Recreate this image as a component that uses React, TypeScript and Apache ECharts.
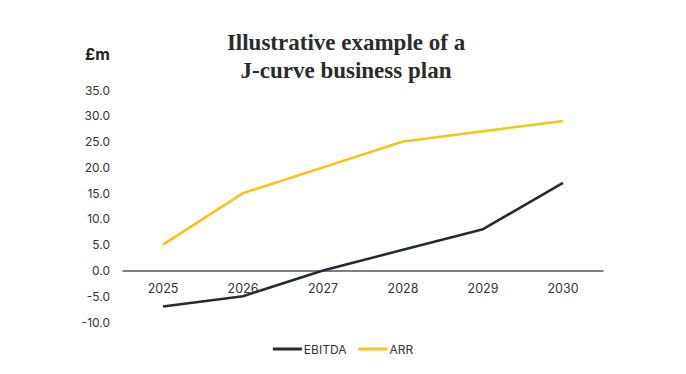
import React, { useEffect, useRef } from "react";
import * as echarts from "echarts";

const years = ["2025", "2026", "2027", "2028", "2029", "2030"];
const ebitda = [-7, -5, 0, 4, 8, 17];
const arr = [5, 15, 20, 25, 27, 29];
const yMin = -10;
const yMax = 35;

export default function App() {
  const ref = useRef<HTMLDivElement>(null);
  useEffect(() => {
    if (!ref.current) return;
    const chart = echarts.init(ref.current, undefined, { renderer: "svg" });
    const gridTop = 82;
    const gridBottom = 44;
    const gridH = 358 - gridTop - gridBottom;
    const zeroOffset = (-yMin / (yMax - yMin)) * gridH;
    chart.setOption({
      animation: false,
      backgroundColor: "#ffffff",
      title: {
        text: "Illustrative example of a\nJ-curve business plan",
        left: 333,
        textAlign: "center",
        top: 15,
        textStyle: {
          fontFamily: "Liberation Serif",
          fontWeight: "bold",
          fontSize: 23,
          lineHeight: 28,
          color: "#2b2b2b",
        },
      },
      graphic: [
        {
          type: "text",
          left: 77,
          top: 38,
          style: {
            text: "£m",
            font: "bold 16px Inter",
            fill: "#222",
          },
        },
      ],
      legend: {
        bottom: 6,
        left: "center",
        itemWidth: 29,
        itemHeight: 3,
        itemGap: 12,
        icon: "rect",
        textStyle: { fontFamily: "Inter", fontSize: 12, color: "#333", padding: [0, 0, 0, -3] },
        data: ["EBITDA", "ARR"],
      },
      grid: { left: 115, right: 75, top: gridTop, bottom: gridBottom, containLabel: false },
      xAxis: {
        type: "category",
        data: years,
        boundaryGap: true,
        offset: -zeroOffset,
        axisLine: { onZero: false, lineStyle: { color: "#555", width: 1.5 } },
        axisTick: { show: false },
        axisLabel: {
          fontFamily: "Inter",
          fontSize: 12.5,
          color: "#333",
          margin: 12,
        },
      },
      yAxis: {
        type: "value",
        min: yMin,
        max: yMax,
        interval: 5,
        splitLine: { show: false },
        axisLine: { show: false },
        axisTick: { show: false },
        axisLabel: {
          fontFamily: "Inter",
          fontSize: 12,
          color: "#333",
          margin: 13,
          formatter: (v: number) => v.toFixed(1),
        },
      },
      series: [
        {
          name: "EBITDA",
          type: "line",
          data: ebitda,
          showSymbol: false,
          symbol: "none",
          lineStyle: { color: "#232a33", width: 2.5 },
          itemStyle: { color: "#232a33" },
        },
        {
          name: "ARR",
          type: "line",
          data: arr,
          showSymbol: false,
          symbol: "none",
          lineStyle: { color: "#f5c518", width: 2.5 },
          itemStyle: { color: "#f5c518" },
        },
      ],
    });
    return () => chart.dispose();
  }, []);
  return <div ref={ref} style={{ width: 670, height: 358 }} />;
}
